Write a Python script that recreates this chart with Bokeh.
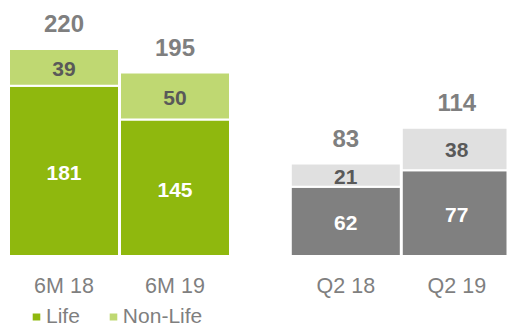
from bokeh.plotting import figure
from bokeh.models import Range1d, Legend, LegendItem
from bokeh.embed import file_html
from bokeh.resources import INLINE
from bokeh.core.properties import value

# ---- data ----
categories_6m = ["6M 18", "6M 19"]
life_6m = [181, 145]
nonlife_6m = [39, 50]
total_6m = [220, 195]
categories_q2 = ["Q2 18", "Q2 19"]
life_q2 = [62, 77]
nonlife_q2 = [21, 38]
total_q2 = [83, 114]
series_names = ["Life", "Non-Life"]

# ---- layout / style ----
W, H = 507, 327
BASE_PX = 71.5          # baseline distance from the bottom edge (px)
LEFT_PX = 0.941         # px per unit, 6M group
RIGHT_PX = 1.115        # px per unit, Q2 group
SLOT = 111
BAR_W = 110
FONT_NAME = "Liberation Sans"
FONT = value(FONT_NAME)
GREEN, LIGHT_GREEN = "#8FB80E", "#BFD872"
GREY, LIGHT_GREY = "#808080", "#E0E0E0"
TXT_GREY = "#7F7F7F"
TXT_DARK = "#595959"

p = figure(width=W, height=H, output_backend="svg", toolbar_location=None,
           min_border=0, x_axis_location=None, y_axis_location=None,
           x_range=Range1d(0, W),
           y_range=Range1d(-BASE_PX / LEFT_PX, (H - BASE_PX) / LEFT_PX))
p.extra_y_ranges = {"q2": Range1d(-BASE_PX / RIGHT_PX, (H - BASE_PX) / RIGHT_PX)}
p.grid.visible = False
p.outline_line_color = None
p.background_fill_color = "white"
p.border_fill_color = "white"

x6 = [63.5, 63.5 + SLOT]
xq = [345.3, 345.3 + SLOT]


def group(xs, life, nonlife, totals, c_life, c_nl, scale, rng, cats, nl_txt):
    kw = {} if rng is None else {"y_range_name": rng}
    tops = [a + b for a, b in zip(life, nonlife)]
    r1 = p.vbar(x=xs, bottom=0, top=life, width=BAR_W, fill_color=c_life,
                line_color="white", line_width=2, **kw)
    r2 = p.vbar(x=xs, bottom=life, top=tops, width=BAR_W, fill_color=c_nl,
                line_color="white", line_width=2, **kw)
    # segment labels
    p.text(x=xs, y=[v / 2 - 2 / scale for v in life], text=[str(v) for v in life],
           text_font=FONT, text_font_style="bold", text_font_size="21px",
           text_align="center", text_baseline="middle", text_color="white", **kw)
    p.text(x=xs, y=[a + b / 2 - 1.5 / scale for a, b in zip(life, nonlife)],
           text=[str(v) for v in nonlife],
           text_font=FONT, text_font_style="bold", text_font_size="21px",
           text_align="center", text_baseline="middle", text_color=nl_txt, **kw)
    # totals
    p.text(x=xs, y=[t + 25 / scale for t in tops], text=[str(t) for t in totals],
           text_font=FONT, text_font_style="bold", text_font_size="24px",
           text_align="center", text_baseline="middle", text_color=TXT_GREY, **kw)
    # category labels
    p.text(x=xs, y=[-30 / scale] * len(xs), text=cats,
           text_font=FONT, text_font_size="21.5px",
           text_align="center", text_baseline="middle", text_color=TXT_GREY, **kw)
    return r1, r2


r_life, r_nl = group(x6, life_6m, nonlife_6m, total_6m, GREEN, LIGHT_GREEN,
                     LEFT_PX, None, categories_6m, TXT_DARK)
group(xq, life_q2, nonlife_q2, total_q2, GREY, LIGHT_GREY, RIGHT_PX, "q2",
      categories_q2, TXT_DARK)

legend = Legend(items=[LegendItem(label=series_names[0], renderers=[r_life]),
                       LegendItem(label=series_names[1], renderers=[r_nl])],
                location=(30, -1), orientation="horizontal",
                glyph_width=12, glyph_height=11, label_standoff=4, spacing=27,
                padding=0, margin=0, label_height=20,
                label_text_font=FONT_NAME, label_text_font_size="21px",
                label_text_color=TXT_GREY,
                background_fill_alpha=0, border_line_color=None)
p.add_layout(legend)

open("out.html", "w").write(file_html(p, INLINE))
